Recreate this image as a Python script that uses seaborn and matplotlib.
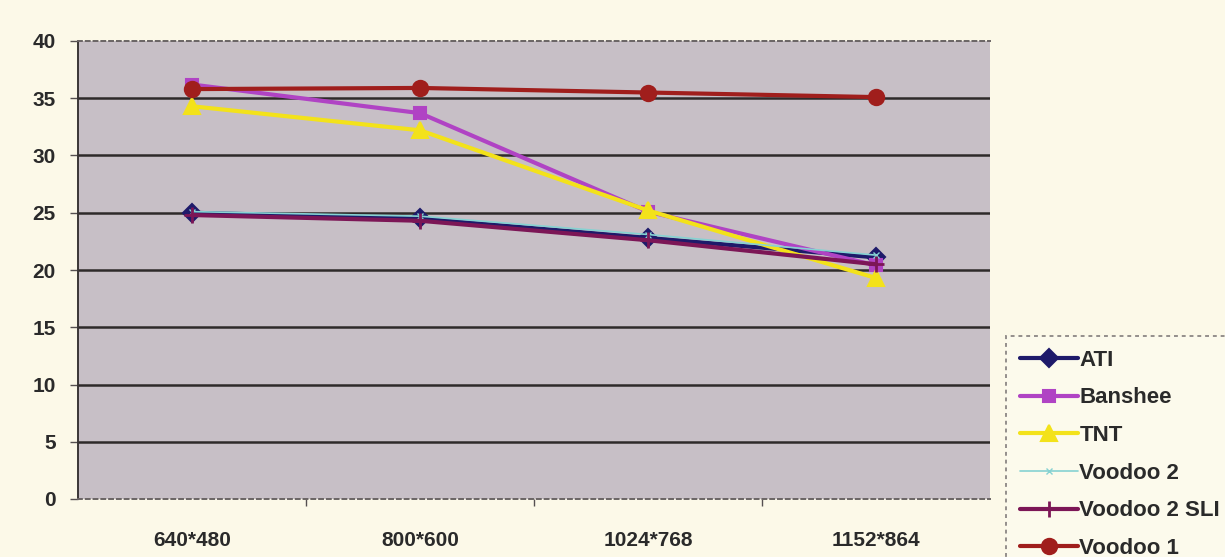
import matplotlib
matplotlib.use("Agg")
import matplotlib.pyplot as plt
import seaborn as sns
import pandas as pd

# Frame rate by resolution for each graphics card
resolutions = ["640*480", "800*600", "1024*768", "1152*864"]
ati = [25.0, 24.5, 22.8, 21.1]
banshee = [36.2, 33.7, 25.1, 20.4]
tnt = [34.3, 32.2, 25.2, 19.3]
voodoo2 = [25.1, 24.7, 23.1, 21.3]
voodoo2_sli = [24.8, 24.3, 22.6, 20.5]
voodoo1 = [35.8, 35.9, 35.5, 35.1]

series = {
    "ATI": ati,
    "Banshee": banshee,
    "TNT": tnt,
    "Voodoo 2": voodoo2,
    "Voodoo 2 SLI": voodoo2_sli,
    "Voodoo 1": voodoo1,
}

styles = {
    "ATI": dict(color="#1e1a6a", marker="D", lw=3.0, ms=9, mew=1.5),
    "Banshee": dict(color="#b043c4", marker="s", lw=3.0, ms=9, mew=1.5),
    "TNT": dict(color="#f3e21a", marker="^", lw=3.0, ms=11, mew=1.5),
    "Voodoo 2": dict(color="#86d2d2", marker="x", lw=1.2, ms=5, mew=1.0),
    "Voodoo 2 SLI": dict(color="#7c1656", marker="+", lw=3.0, ms=11, mew=2.0),
    "Voodoo 1": dict(color="#a01e1c", marker="o", lw=3.0, ms=11, mew=1.5),
}

sns.set_theme(style="white")
plt.rcParams["font.family"] = ["Liberation Sans", "DejaVu Sans"]

fig = plt.figure(figsize=(12.25, 5.57), dpi=100)
fig.patch.set_facecolor("#fcf9e8")
ax = fig.add_axes([78 / 1225, 1 - 499 / 557, (990 - 78) / 1225, (499 - 41) / 557])
ax.set_facecolor("#c7bfc6")

# horizontal gridlines
for g in range(5, 40, 5):
    ax.axhline(g, color="#2e2a2a", lw=1.8, zorder=1)

for card, vals in series.items():
    st = styles[card]
    df = pd.DataFrame({"pos": range(len(vals)), "fps": vals})
    sns.lineplot(
        data=df, x="pos", y="fps", ax=ax, color=st["color"],
        marker=st["marker"], markersize=st["ms"], markeredgewidth=st["mew"],
        markeredgecolor=st["color"], linewidth=st["lw"], label=card, zorder=3,
    )

handles, labels = ax.get_legend_handles_labels()
ax.get_legend().remove()

ax.set_xlim(-0.5, 3.5)
ax.set_ylim(0, 40)
ax.set_yticks(range(0, 41, 5))
ax.set_xticks(range(4))
ax.set_xticklabels(resolutions)
ax.set_xticks([0.5, 1.5, 2.5], minor=True)
ax.tick_params(axis="x", which="major", length=0, pad=23)
ax.tick_params(axis="x", which="minor", length=5, width=1, color="#555050", direction="out", bottom=True)
ax.tick_params(axis="y", length=6, width=1, color="#555050", direction="out", left=True, pad=10)
for lab in ax.get_xticklabels() + ax.get_yticklabels():
    lab.set_fontsize(15)
    lab.set_fontweight("bold")
    lab.set_color("#2a2a2a")
ax.set_xlabel("")
ax.set_ylabel("")

ax.spines["left"].set_color("#3a3636")
ax.spines["left"].set_linewidth(1.4)
for s in ("top", "bottom"):
    ax.spines[s].set_color("#6a6464")
    ax.spines[s].set_linestyle((0, (2, 2)))
    ax.spines[s].set_linewidth(1.4)
ax.spines["right"].set_visible(False)

leg = fig.legend(
    handles, labels, loc="upper left",
    bbox_to_anchor=(1006 / 1225, 1 - 336 / 557),
    frameon=True, fancybox=False, fontsize=16,
    handlelength=2.6, handletextpad=0.08, labelspacing=0.75,
    borderpad=0.62, borderaxespad=0,
)
leg.get_frame().set_facecolor("#fdfbee")
leg.get_frame().set_edgecolor("#7a7474")
leg.get_frame().set_linestyle((0, (2, 2)))
leg.get_frame().set_linewidth(1.4)
for t in leg.get_texts():
    t.set_fontweight("bold")
    t.set_color("#2a2a2a")

fig.savefig("out.png", dpi=100, facecolor=fig.get_facecolor())
